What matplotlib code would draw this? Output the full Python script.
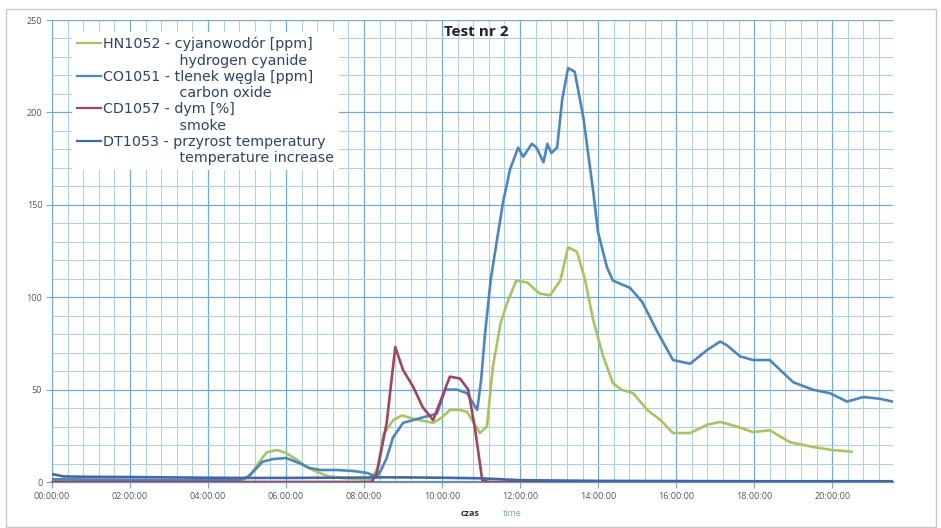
import numpy as np
import matplotlib.pyplot as plt
from matplotlib.lines import Line2D
from matplotlib.patches import Rectangle
from matplotlib.ticker import MultipleLocator

plt.rcParams['font.family'] = ['Open Sans', 'DejaVu Sans']

# czas w godzinach od startu testu
t_hn = [0, 1, 2, 3, 4, 4.9, 5.1, 5.25, 5.5, 5.77, 6.0, 6.28, 6.54, 6.8, 7.1, 7.5, 8.0, 8.2,
        8.35, 8.5, 8.75, 8.97, 9.3, 9.77, 10.0, 10.2, 10.45, 10.64, 10.97, 11.15, 11.3, 11.5,
        11.67, 11.9, 12.18, 12.5, 12.77, 13.03, 13.23, 13.46, 13.67, 13.87, 14.13, 14.38,
        14.6, 14.9, 15.26, 15.6, 15.92, 16.36, 16.8, 17.13, 17.56, 17.97, 18.4, 18.92, 19.5,
        20.0, 20.5]
v_hn = [0.8, 0.8, 0.7, 0.6, 0.6, 1.0, 4, 9, 16, 17.3, 15.7, 12, 8, 5.4, 3, 2, 1.5, 1.5,
        8, 26, 33.5, 36, 34, 32, 35, 39, 39, 38, 26.5, 30, 62, 86,
        97, 109, 108, 102, 101, 109, 127, 124.5, 109, 88, 68, 53.5,
        50, 48, 39, 33.5, 26.5, 26.5, 31, 32.5, 30, 27, 28, 21.5, 19,
        17.3, 16.4]

t_co = [0, 1, 2, 3, 4, 4.8, 5.0, 5.15, 5.4, 5.67, 6.0, 6.36, 6.6, 6.87, 7.3, 7.7, 8.08, 8.33,
        8.45, 8.58, 8.74, 9.0, 9.44, 9.87, 10.08, 10.38, 10.64, 10.9, 11.0, 11.1, 11.25, 11.4,
        11.56, 11.74, 11.95, 12.08, 12.3, 12.42, 12.6, 12.7, 12.8, 12.95, 13.08, 13.23, 13.4,
        13.62, 13.87, 14.0, 14.23, 14.38, 14.82, 15.13, 15.5, 15.92, 16.36, 16.8, 17.13, 17.3,
        17.64, 17.97, 18.4, 19.0, 19.5, 19.95, 20.38, 20.8, 21.23, 21.55]
v_co = [1.5, 1.3, 1.2, 1.0, 1.0, 1.2, 2.5, 5.4, 11, 12.4, 13, 10, 7.6, 6.5, 6.5, 6, 4.9, 2.7,
        7, 13, 24, 32, 34.6, 37, 50, 50, 48, 39, 55, 80, 110, 130,
        151, 169, 181, 176, 183, 181, 173, 183, 178, 181, 207, 224, 222,
        197.5, 158, 135, 116, 109, 105, 97.5, 82, 66, 64, 71.5, 76, 74,
        68, 66, 66, 54, 50, 48, 43.5, 46, 45, 43.5]

t_cd = [0, 8.2, 8.33, 8.58, 8.8, 9.0, 9.26, 9.5, 9.77, 10.0, 10.2, 10.46, 10.67, 10.85,
        11.03, 11.2, 21.55]
v_cd = [0, 0, 5, 32, 73, 60.6, 51.5, 40.6, 33.5, 46, 57, 56, 50, 28, 1, 0, 0]

t_dt = [0, 0.3, 1, 2, 3, 4, 5, 6, 7, 8, 8.3, 9, 10, 11, 11.5, 12, 13, 14, 16, 18, 20, 21.55]
v_dt = [4.3, 3.0, 2.8, 2.7, 2.5, 2.3, 2.2, 2.2, 2.3, 2.4, 2.5, 2.5, 2.3, 2.0, 1.5, 1.0, 0.8,
        0.6, 0.5, 0.4, 0.4, 0.4]

x_ticks = [0, 2, 4, 6, 8, 10, 12, 14, 16, 18, 20]
x_labels = ["00:00:00", "02:00:00", "04:00:00", "06:00:00", "08:00:00", "10:00:00",
            "12:00:00", "14:00:00", "16:00:00", "18:00:00", "20:00:00"]

labels = [("HN1052 - cyjanowodór [ppm]", "hydrogen cyanide"),
          ("CO1051 - tlenek węgla [ppm]", "carbon oxide"),
          ("CD1057 - dym [%]", "smoke"),
          ("DT1053 - przyrost temperatury", "temperature increase")]
colors = ["#a9c45c", "#4a86c0", "#a04560", "#3f68a8"]

fig = plt.figure(figsize=(9.41, 5.28), dpi=100)
ax = fig.add_axes([52/941, 1-482/528, (893-52)/941, (482-20)/528])

series = [(t_hn, v_hn), (t_co, v_co), (t_cd, v_cd), (t_dt, v_dt)]
for (t, v), c in zip(series, colors):
    ax.plot(t, v, color=c, lw=1.9, zorder=3)

ax.set_xlim(0, 21.56)
ax.set_ylim(0, 250)
ax.set_xticks(x_ticks)
ax.set_xticklabels(x_labels)
ax.xaxis.set_minor_locator(MultipleLocator(0.4))
ax.yaxis.set_major_locator(MultipleLocator(50))
ax.yaxis.set_minor_locator(MultipleLocator(10))
ax.grid(which='major', color='#72aad6', lw=0.9, zorder=0)
ax.grid(which='minor', color='#a9cfea', lw=0.7, zorder=0)
ax.set_axisbelow(True)
ax.tick_params(which='major', length=4, color='#72aad6', labelsize=6.5, labelcolor='#555555', pad=3)
ax.tick_params(which='minor', length=0)
for s in ['top', 'right']:
    ax.spines[s].set_visible(False)
ax.spines['left'].set_color('#72aad6')
ax.spines['bottom'].set_color('#6a8fb0')
ax.spines['bottom'].set_linewidth(1.6)

ax.text(0.505, 0.99, "Test nr 2", transform=ax.transAxes, ha='center', va='top',
        fontsize=11, fontweight='bold', color='#222222')

# legenda: linia + pierwszy wiersz, drugi wiersz bez linii
handles, texts = [], []
for (l1, l2), c in zip(labels, colors):
    handles.append(Line2D([], [], color=c, lw=1.6))
    texts.append(l1)
    handles.append(Line2D([], [], color='none'))
    texts.append(" " * 17 + l2)
leg = ax.legend(handles, texts, loc='upper left', bbox_to_anchor=(0.015, 0.99),
                prop={'family': 'DejaVu Sans', 'size': 10.3}, frameon=True, fancybox=False,
                edgecolor='none', facecolor='white', framealpha=1, labelspacing=0.16,
                handlelength=1.7, handletextpad=0.15, borderpad=0.35)
for tx in leg.get_texts():
    tx.set_color('#2c4466')

fig.text(470/941, 1-513/528, "czas", fontsize=6.5, fontweight='bold', color='#333333',
         ha='center', va='center')
fig.text(512/941, 1-513/528, "time", fontsize=6.5, color='#7aa6cc', ha='center', va='center')

fig.patches.append(Rectangle((6/941, 0.002), 930/941, 1-10/528, transform=fig.transFigure,
                             fill=False, edgecolor='#c8c8c8', lw=1.0))

fig.savefig("out.png", dpi=100)
